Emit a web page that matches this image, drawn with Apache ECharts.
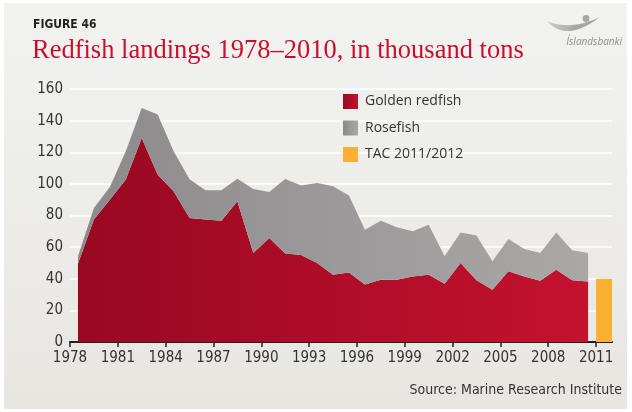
<!DOCTYPE html>
<html>
<head>
<meta charset="utf-8">
<script src="https://cdn.jsdelivr.net/npm/echarts@6/dist/echarts.min.js"></script>
<style>
  html, body { margin: 0; padding: 0; background: #ffffff; }
  #chart { width: 632px; height: 412px; }
</style>
</head>
<body>
<div id="chart"></div>
<script>
// Annual redfish landings, thousand tons
const years = [1978, 1979, 1980, 1981, 1982, 1983, 1984, 1985, 1986, 1987, 1988,
  1989, 1990, 1991, 1992, 1993, 1994, 1995, 1996, 1997, 1998, 1999,
  2000, 2001, 2002, 2003, 2004, 2005, 2006, 2007, 2008, 2009, 2010];
const goldenRedfish = [49.5, 77.4, 90.0, 102.7, 129.0, 105.8, 95.3, 78.4, 77.4, 76.7, 89.0,
  56.3, 65.8, 55.9, 55.0, 50.0, 42.6, 44.0, 36.3, 39.4, 39.4, 41.5,
  42.6, 36.9, 50.0, 39.0, 33.1, 44.7, 41.5, 38.8, 45.7, 39.0, 38.3];
const rosefish = [4.7, 7.4, 8.0, 17.9, 19.0, 38.0, 25.3, 24.6, 18.6, 19.3, 14.3,
  40.5, 29.1, 47.2, 43.9, 50.6, 55.9, 48.6, 34.7, 37.3, 33.1, 28.5,
  31.6, 17.3, 19.3, 28.3, 17.9, 20.5, 17.3, 17.5, 23.6, 19.0, 18.0];
// Total allowable catch for the 2011/2012 fishing year
const tacYear = 2011;
const tacValue = 40;
// Axis ticks
const xTickYears = [1978, 1981, 1984, 1987, 1990, 1993, 1996, 1999, 2002, 2005, 2008, 2011];
const yMin = 0, yMax = 160, yStep = 20;

// one band per year; each year's value sits in the middle of its band
const yearBands = years.concat([tacYear]).map(String);

const COND = "'DejaVu Sans Condensed', Roboto, 'Liberation Sans', sans-serif";
const TEXT = '#333333';

const grad = (a, b) => new echarts.graphic.LinearGradient(0, 0, 1, 0, [
  { offset: 0, color: a }, { offset: 1, color: b }
]);
const redFill = grad('#990821', '#c4122f');
const greyFill = grad('#8c8a8b', '#aaa8a7');
const orange = '#fbb033';

// crescent-shaped swoosh of the bank logo, sampled from two quadratic curves
function swoosh() {
  const q = (p0, c, p1, t) => [
    (1 - t) * (1 - t) * p0[0] + 2 * (1 - t) * t * c[0] + t * t * p1[0],
    (1 - t) * (1 - t) * p0[1] + 2 * (1 - t) * t * c[1] + t * t * p1[1]
  ];
  const a = [547, 21], b = [600, 17];
  const pts = [];
  for (let i = 0; i <= 24; i++) pts.push(q(a, [566, 43], b, i / 24));
  for (let i = 24; i >= 0; i--) pts.push(q(a, [570, 31], b, i / 24));
  return pts;
}

const chart = echarts.init(document.getElementById('chart'), null, { renderer: 'canvas' });

chart.setOption({
  animation: false,
  graphic: [
    {
      type: 'rect', z: -10, silent: true,
      shape: { x: 4, y: 3, width: 623, height: 406 },
      style: {
        fill: new echarts.graphic.LinearGradient(0, 0, 0, 1, [
          { offset: 0, color: '#f2f2f1' }, { offset: 1, color: '#e7e6e1' }
        ])
      }
    },
    {
      type: 'text', x: 33, y: 25,
      style: { text: 'FIGURE 46', font: "bold 12px " + COND, fill: '#231f20', verticalAlign: 'middle' }
    },
    {
      type: 'text', x: 32, y: 51,
      style: { text: 'Redfish landings 1978\u20132010, in thousand tons',
               font: "26.5px 'Liberation Serif', serif", fill: '#c8102e', verticalAlign: 'middle' }
    },
    {
      type: 'polygon', z: 5, silent: true,
      shape: { points: swoosh() },
      style: { fill: new echarts.graphic.LinearGradient(0, 0, 1, 0, [
        { offset: 0, color: '#cfcfcf' }, { offset: 0.5, color: '#a8a8a8' }, { offset: 1, color: '#a4a4a4' }
      ]) }
    },
    {
      type: 'circle', z: 5, silent: true,
      shape: { cx: 586, cy: 18.5, r: 3.4 },
      style: { fill: '#a6a6a6' }
    },
    {
      type: 'text', x: 622, y: 42.5,
      style: { text: '\u00cdslandsbanki', font: "italic 10px 'Open Sans', sans-serif", fill: '#8f8f8f',
               align: 'right', verticalAlign: 'middle' }
    },
    {
      type: 'text', x: 622, y: 390,
      style: { text: 'Source: Marine Research Institute', font: "14px " + COND, fill: TEXT,
               align: 'right', verticalAlign: 'middle' }
    }
  ],
  grid: { left: 70, right: 20, top: 89, bottom: 70, containLabel: false },
  legend: {
    orient: 'vertical', left: 343, top: 94, padding: 0,
    icon: 'rect', itemWidth: 15, itemHeight: 15, itemGap: 11.5,
    itemStyle: { borderWidth: 0 },
    textStyle: { fontFamily: "'Open Sans', sans-serif", fontSize: 14, color: TEXT, padding: [0, 0, 0, 2] },
    data: [
      { name: 'Golden redfish', itemStyle: { color: redFill } },
      { name: 'Rosefish', itemStyle: { color: greyFill } },
      { name: 'TAC 2011/2012', itemStyle: { color: orange } }
    ]
  },
  xAxis: [
    {
      // year bands carrying the data
      type: 'category', data: yearBands, boundaryGap: true,
      axisLine: { show: false }, axisTick: { show: false }, axisLabel: { show: false },
      splitLine: { show: false }
    },
    {
      // continuous year scale carrying the ticks and labels
      type: 'value', min: xTickYears[0], max: tacYear + 1, position: 'bottom',
      splitLine: { show: false },
      axisLine: { show: true, onZero: false, lineStyle: { color: '#231f20', width: 2 } },
      axisTick: { show: true, length: 5, customValues: xTickYears, lineStyle: { color: '#231f20', width: 1.5 } },
      axisLabel: { customValues: xTickYears, formatter: v => String(v),
                   fontFamily: COND, fontSize: 15, color: TEXT, margin: 9 }
    }
  ],
  yAxis: {
    type: 'value', min: yMin, max: yMax, interval: yStep,
    axisLine: { show: false }, axisTick: { show: false },
    splitLine: { lineStyle: { color: '#ffffff', width: 1.5 } },
    axisLabel: { fontFamily: COND, fontSize: 15, color: TEXT, margin: 7 }
  },
  series: [
    {
      name: 'Golden redfish', type: 'line', stack: 'landings', xAxisIndex: 0,
      data: goldenRedfish, symbol: 'none', silent: true,
      lineStyle: { width: 0 }, itemStyle: { color: '#b00d28' },
      areaStyle: { color: redFill, opacity: 1 }
    },
    {
      name: 'Rosefish', type: 'line', stack: 'landings', xAxisIndex: 0,
      data: rosefish, symbol: 'none', silent: true,
      lineStyle: { width: 0 }, itemStyle: { color: '#9b9999' },
      areaStyle: { color: greyFill, opacity: 1 }
    },
    {
      name: 'TAC 2011/2012', type: 'bar', xAxisIndex: 0,
      data: [[String(tacYear), tacValue]], barWidth: '100%', silent: true,
      itemStyle: { color: orange }
    }
  ]
});
</script>
</body>
</html>
